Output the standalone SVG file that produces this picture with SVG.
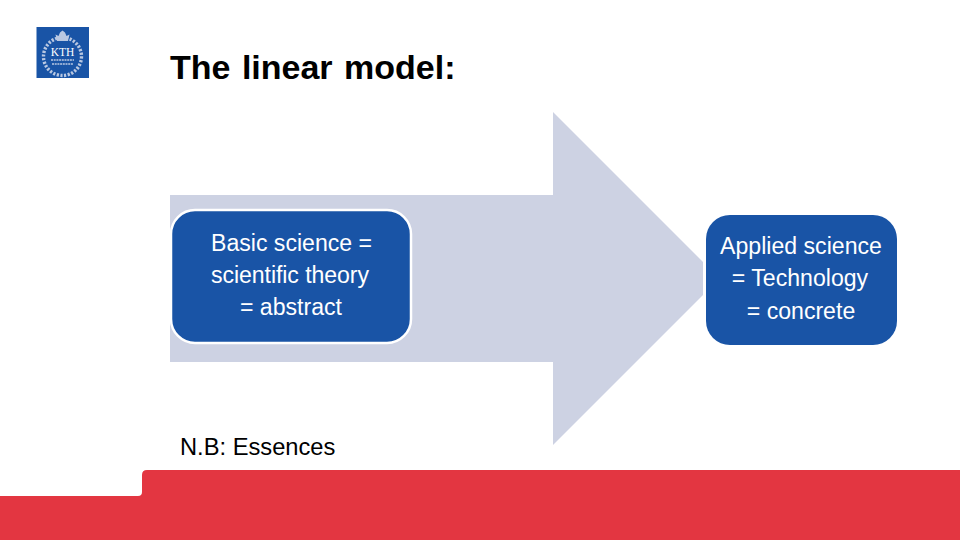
<svg xmlns="http://www.w3.org/2000/svg" width="960" height="540" viewBox="0 0 960 540">
<style>
.s{font-family:"Liberation Sans",Arial,sans-serif}
.b{fill:#1954a6}
.w{fill:#fff;font-size:23.100px;text-anchor:middle}
</style>
<rect width="960" height="540" fill="#fff"/>
<path id="footer" d="M0 496H138Q142 496 142 492V475Q142 470 147 470H960V540H0Z" fill="#e33641"/>
<g id="logo">
<rect x="36.500" y="27" width="52.500" height="51" class="b"/>
<circle cx="62.500" cy="56.500" r="19" fill="none" stroke="#b9c8e2" stroke-width="3.400" stroke-dasharray="2.200 1.500"/>
<path d="M57 41 L55.500 34.500 L58.500 36 L60 32.500 L62.500 30.500 L65 32.500 L66.500 36 L69.500 34.500 L68 41Z" fill="#b9c8e2"/>
<text x="62.500" y="56" font-size="11.500" fill="#fff" text-anchor="middle" style="font-family:'Liberation Serif',serif">KTH</text>
<path d="M51 60H74M52 64H73" stroke="#b9c8e2" stroke-width="1.500" stroke-dasharray="2 .7"/>
</g>
<text id="title" class="s" x="170" y="79" font-size="34" font-weight="700" word-spacing="2" fill="#000">The linear model:</text>
<g id="connectors">
<path id="arrow" d="M170 195H553V112L703 262V295L553 445V362H170Z" fill="#cdd2e3"/>
</g>
<g id="basic">
<rect x="171" y="210" width="240" height="133" rx="24" class="b" stroke="#fff" stroke-width="2.500"/>
<text class="s w" x="291.500" y="251" textLength="161" lengthAdjust="spacing">Basic science =</text>
<text class="s w" x="290" y="283" textLength="158" lengthAdjust="spacing">scientific theory</text>
<text class="s w" x="291" y="315">= abstract</text>
</g>
<g id="applied">
<rect x="706" y="215" width="191" height="130" rx="24" class="b"/>
<text class="s w" x="801" y="254">Applied science</text>
<text class="s w" x="800" y="286">= Technology</text>
<text class="s w" x="801" y="318.500">= concrete</text>
</g>
<text id="note" x="180" y="454.500" class="s" font-size="23.700" fill="#000">N.B: Essences</text>
</svg>
